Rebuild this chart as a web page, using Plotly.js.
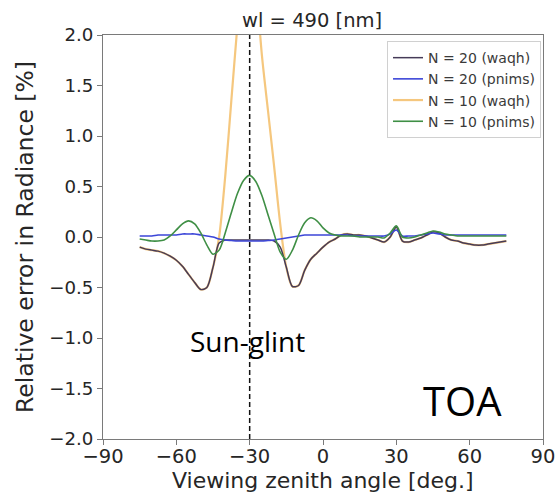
<!DOCTYPE html>
<html>
<head>
<meta charset="utf-8">
<script src="https://cdn.plot.ly/plotly-3.0.1.min.js"></script>
<style>
  html, body { margin: 0; padding: 0; background: #fff; }
  #chart { width: 559px; height: 495px; }
</style>
</head>
<body>
<div id="chart"></div>
<script>
// Viewing zenith angles [deg.]
const angles = [
  -75, -72.5, -70, -67.5, -65, -62.5, -60, -57.5, -55, -52.5,
  -50, -47.5, -45, -42.5, -40, -37.5, -35, -32.5, -30, -27.5,
  -25, -22.5, -20, -17.5, -15, -12.5, -10, -7.5, -5, -2.5,
  0, 2.5, 5, 7.5, 10, 12.5, 15, 17.5, 20, 22.5,
  25, 27.5, 30, 32.5, 35, 37.5, 40, 42.5, 45, 47.5,
  50, 52.5, 55, 57.5, 60, 62.5, 65, 67.5, 70, 72.5, 75
];

// Relative error in radiance [%]
const n20Waqh = [
  -0.10, -0.12, -0.13, -0.14, -0.16, -0.19, -0.23, -0.29, -0.37, -0.45,
  -0.52, -0.50, -0.30, -0.06, -0.03, -0.03, -0.03, -0.03, -0.03, -0.03,
  -0.03, -0.03, -0.04, -0.10, -0.30, -0.49, -0.48, -0.33, -0.22, -0.16,
  -0.10, -0.05, -0.02, 0.02, 0.03, 0.02, 0.02, 0.01, -0.01, -0.03,
  -0.05, 0.00, 0.10, -0.04, -0.05, -0.03, -0.01, 0.02, 0.05, 0.04,
  0.00, -0.03, -0.04, -0.06, -0.07, -0.08, -0.08, -0.07, -0.06, -0.05, -0.04
];
const n20Pnims = [
  0.01, 0.01, 0.01, 0.02, 0.02, 0.02, 0.02, 0.03, 0.03, 0.03,
  0.02, 0.01, 0.00, -0.02, -0.03, -0.035, -0.04, -0.04, -0.04, -0.04,
  -0.04, -0.035, -0.03, -0.02, -0.01, 0.00, 0.01, 0.02, 0.02, 0.02,
  0.02, 0.02, 0.02, 0.02, 0.02, 0.01, 0.01, 0.01, 0.01, 0.01,
  0.01, 0.03, 0.07, 0.01, 0.01, 0.01, 0.02, 0.03, 0.04, 0.03,
  0.02, 0.02, 0.02, 0.02, 0.02, 0.02, 0.02, 0.02, 0.02, 0.02, 0.02
];
const n10Waqh = [
  -0.10, -0.12, -0.13, -0.14, -0.16, -0.19, -0.23, -0.29, -0.37, -0.45,
  -0.52, -0.50, -0.30, 0.00, 0.60, 1.35, 2.10, 2.80, 3.20, 2.55,
  1.80, 1.25, 0.70, 0.13, -0.30, -0.49, -0.48, -0.33, -0.22, -0.16,
  -0.10, -0.05, -0.02, 0.02, 0.03, 0.02, 0.02, 0.01, -0.01, -0.03,
  -0.05, 0.00, 0.10, -0.04, -0.05, -0.03, -0.01, 0.02, 0.05, 0.04,
  0.00, -0.03, -0.04, -0.06, -0.07, -0.08, -0.08, -0.07, -0.06, -0.05, -0.04
];
const n10Pnims = [
  -0.02, -0.03, -0.04, -0.04, -0.03, 0.01, 0.07, 0.13, 0.16, 0.13,
  0.04, -0.08, -0.17, -0.13, 0.04, 0.24, 0.43, 0.56, 0.61, 0.55,
  0.41, 0.22, 0.03, -0.15, -0.22, -0.13, 0.02, 0.14, 0.19, 0.16,
  0.09, 0.04, 0.02, 0.01, 0.01, 0.01, 0.00, 0.00, 0.00, 0.00,
  -0.01, 0.04, 0.11, 0.00, -0.01, 0.00, 0.02, 0.04, 0.06, 0.05,
  0.03, 0.02, 0.01, 0.01, 0.01, 0.01, 0.01, 0.01, 0.01, 0.01, 0.01
];

const seriesNames = ['N = 20 (waqh)', 'N = 20 (pnims)', 'N = 10 (waqh)', 'N = 10 (pnims)'];
const xTicks = [-90, -60, -30, 0, 30, 60, 90];
const yTicks = [-2.0, -1.5, -1.0, -0.5, 0.0, 0.5, 1.0, 1.5, 2.0];
const sunGlintAngle = -30;

const FONT = 'DejaVu Sans, sans-serif';
const seriesValues = [n20Waqh, n20Pnims, n10Waqh, n10Pnims];
const seriesStyle = [
  { color: '#463b58', width: 1.5 },
  { color: '#3c46d8', width: 1.6 },
  { color: '#f5c77e', width: 2.2 },
  { color: '#3f8f45', width: 1.6 }
];
// Drawing order: the wide orange curve goes underneath so the darker
// N = 20 (waqh) curve stays visible along the shared lobes.
const drawOrder = [2, 0, 1, 3];

const traces = drawOrder.map(i => ({
  type: 'scatter',
  mode: 'lines',
  name: seriesNames[i],
  legendrank: i + 1,
  x: angles,
  y: seriesValues[i],
  line: { color: seriesStyle[i].color, width: seriesStyle[i].width, shape: 'spline', smoothing: 0.8 },
  hoverinfo: 'x+y+name'
}));

const axisCommon = {
  showgrid: false,
  zeroline: false,
  showline: true,
  mirror: true,
  linecolor: '#7a7a7a',
  linewidth: 1,
  ticks: 'outside',
  ticklen: 5,
  tickwidth: 1,
  tickcolor: '#7a7a7a'
};

const layout = {
  width: 559,
  height: 495,
  margin: { l: 103, r: 16, t: 35, b: 56 },
  paper_bgcolor: '#ffffff',
  plot_bgcolor: '#ffffff',
  font: { family: FONT, color: '#262626' },
  title: {
    text: 'wl = 490 [nm]',
    font: { family: FONT, size: 19.5, color: '#262626' },
    xref: 'paper', x: 0.316, xanchor: 'left',
    yref: 'container', y: 1 - 20 / 495, yanchor: 'middle'
  },
  xaxis: Object.assign({}, axisCommon, {
    range: [-90, 90],
    tickvals: xTicks,
    ticktext: xTicks.map(v => (v < 0 ? '\u2212' + Math.abs(v) : String(v))),
    tickfont: { family: FONT, size: 19.5, color: '#262626' },
    ticklabelstandoff: -5
  }),
  yaxis: Object.assign({}, axisCommon, {
    range: [-2, 2],
    tickvals: yTicks,
    ticktext: yTicks.map(v => (v < 0 ? '\u2212' + Math.abs(v).toFixed(1) : v.toFixed(1))),
    tickfont: { family: FONT, size: 18.2, color: '#262626' },
    title: { text: 'Relative error in Radiance [%]', font: { family: FONT, size: 23.5, color: '#262626' }, standoff: 8 }
  }),
  legend: {
    x: 0.9955, xanchor: 'right',
    y: 0.985, yanchor: 'top',
    bgcolor: 'rgba(255,255,255,0.85)',
    bordercolor: '#d0d0d0',
    borderwidth: 1,
    font: { family: FONT, size: 14, color: '#3a3a3a' },
    tracegroupgap: 0
  },
  shapes: [{
    type: 'line', xref: 'x', yref: 'paper',
    x0: sunGlintAngle, x1: sunGlintAngle, y0: 0, y1: 1,
    line: { color: '#111111', width: 1.5, dash: '5px,3px' }
  }],
  annotations: [
    {
      text: 'Viewing zenith angle [deg.]', xref: 'paper', yref: 'paper', x: 0.5, y: 0,
      xanchor: 'center', yanchor: 'top', yshift: -27, showarrow: false,
      font: { family: FONT, size: 22, color: '#262626' }
    },
    {
      text: 'Sun-glint', xref: 'x', yref: 'y', x: -31, y: -1.03,
      xanchor: 'center', yanchor: 'middle', showarrow: false,
      font: { family: 'Open Sans, sans-serif', size: 28, color: '#000000' }
    },
    {
      text: 'TOA', xref: 'x', yref: 'y', x: 57, y: -1.62,
      xanchor: 'center', yanchor: 'middle', showarrow: false,
      font: { family: 'Open Sans, sans-serif', size: 40, color: '#000000' }
    }
  ],
  showlegend: true
};

Plotly.newPlot('chart', traces, layout, { displayModeBar: false, staticPlot: true });
</script>
</body>
</html>
